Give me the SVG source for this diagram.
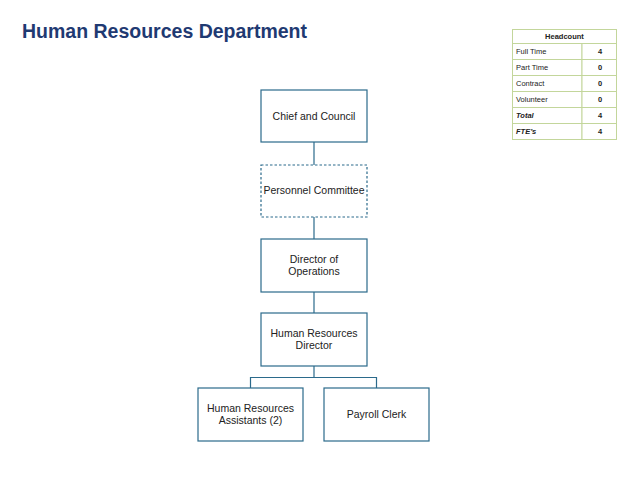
<svg xmlns="http://www.w3.org/2000/svg" width="638" height="479" viewBox="0 0 638 479">
<style>
.box{fill:#fff;stroke:#2B6A8B;stroke-width:1.2}
.dash{stroke-dasharray:2.5,2}
.lbl{font-family:"Liberation Sans",Arial,sans-serif;font-size:10.5px;fill:#222;text-anchor:middle}
.con{stroke:#2B6A8B;stroke-width:1.2;fill:none}
.tb{font-family:"Liberation Sans",Arial,sans-serif;font-size:7.5px;fill:#222}
.cell{fill:#fff;stroke:#C3D69B;stroke-width:1}
</style>
<rect width="638" height="479" fill="#fff"/>
<text x="22" y="38" font-family="Liberation Sans,Arial,sans-serif" font-size="19.5" font-weight="bold" fill="#1F3A72">Human Resources Department</text>
<g id="connectors">
<line class="con" x1="314" y1="142" x2="314" y2="165"/>
<line class="con" x1="314" y1="217" x2="314" y2="239"/>
<line class="con" x1="314" y1="292" x2="314" y2="313"/>
<line class="con" x1="314" y1="366" x2="314" y2="377.5"/>
<polyline class="con" points="250.5,388 250.5,377.5 376.5,377.5 376.5,388"/>
</g>
<g id="chief"><rect class="box" x="261" y="90" width="106" height="52"/><text class="lbl" x="314" y="120">Chief and Council</text></g>
<g id="personnel"><rect class="box dash" x="261" y="165" width="106" height="52"/><text class="lbl" x="314" y="194">Personnel Committee</text></g>
<g id="director"><rect class="box" x="261" y="239" width="106" height="53"/><text class="lbl" x="314" y="263">Director of</text><text class="lbl" x="314" y="275">Operations</text></g>
<g id="hrdirector"><rect class="box" x="261" y="313" width="106" height="53"/><text class="lbl" x="314" y="337">Human Resources</text><text class="lbl" x="314" y="349">Director</text></g>
<g id="hrassistants"><rect class="box" x="198" y="388" width="105" height="53"/><text class="lbl" x="250.5" y="412">Human Resources</text><text class="lbl" x="250.5" y="424">Assistants (2)</text></g>
<g id="payroll"><rect class="box" x="324" y="388" width="105" height="53"/><text class="lbl" x="376.5" y="418">Payroll Clerk</text></g>
<g id="headcount">
<rect class="cell" x="512.5" y="29.5" width="104" height="14"/>
<text class="tb" x="564.5" y="39" text-anchor="middle" font-weight="bold">Headcount</text>
<rect class="cell" x="512.5" y="43.5" width="69.5" height="16"/><rect class="cell" x="582" y="43.5" width="34.5" height="16"/>
<rect class="cell" x="512.5" y="59.5" width="69.5" height="16"/><rect class="cell" x="582" y="59.5" width="34.5" height="16"/>
<rect class="cell" x="512.5" y="75.5" width="69.5" height="16"/><rect class="cell" x="582" y="75.5" width="34.5" height="16"/>
<rect class="cell" x="512.5" y="91.5" width="69.5" height="16"/><rect class="cell" x="582" y="91.5" width="34.5" height="16"/>
<rect class="cell" x="512.5" y="107.5" width="69.5" height="16"/><rect class="cell" x="582" y="107.5" width="34.5" height="16"/>
<rect class="cell" x="512.5" y="123.5" width="69.5" height="16"/><rect class="cell" x="582" y="123.5" width="34.5" height="16"/>
<text class="tb" x="516" y="54">Full Time</text><text class="tb" x="600" y="54" text-anchor="middle" font-weight="bold">4</text>
<text class="tb" x="516" y="70">Part Time</text><text class="tb" x="600" y="70" text-anchor="middle" font-weight="bold">0</text>
<text class="tb" x="516" y="86">Contract</text><text class="tb" x="600" y="86" text-anchor="middle" font-weight="bold">0</text>
<text class="tb" x="516" y="102">Volunteer</text><text class="tb" x="600" y="102" text-anchor="middle" font-weight="bold">0</text>
<text class="tb" x="516" y="118" font-weight="bold" font-style="italic">Total</text><text class="tb" x="600" y="118" text-anchor="middle" font-weight="bold">4</text>
<text class="tb" x="516" y="134" font-weight="bold" font-style="italic">FTE’s</text><text class="tb" x="600" y="134" text-anchor="middle" font-weight="bold">4</text>
</g>
</svg>
